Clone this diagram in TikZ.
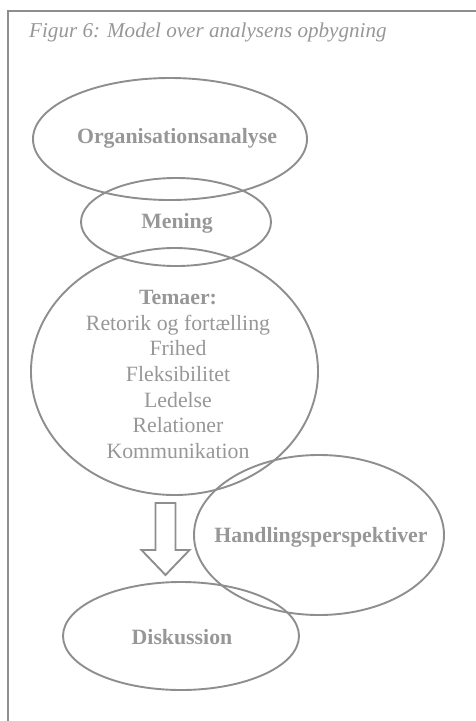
\documentclass[tikz,border=0pt]{standalone}
\usepackage{fontspec}
\setmainfont{Liberation Serif}
\usetikzlibrary{shapes.geometric}
\definecolor{linegray}{HTML}{8E8E8E}
\definecolor{textgray}{HTML}{979797}
\begin{document}
\begin{tikzpicture}[x=1pt,y=-1pt,
  oval/.style={draw=linegray, line width=1.9pt, ellipse, inner sep=0pt},
  lbl/.style={text=textgray, font=\fontsize{21.8}{25.6}\selectfont\bfseries, inner sep=0pt},
  body/.style={text=textgray, font=\fontsize{21.8}{25.6}\selectfont, align=center, inner sep=0pt}]
\useasboundingbox (0,0) rectangle (475,721);
% frame (top and left edges only)
\draw[linegray, line width=2pt] (8,722) -- (8,11) -- (476,11);
\node[text=textgray, font=\fontsize{21.1}{24}\selectfont\itshape, anchor=west, inner sep=0pt] (title) at (29,32) {Figur 6: Model over analysens opbygning};
% ovals
\node[oval, minimum width=274pt, minimum height=122pt] (org) at (170,139) {};
\node[oval, minimum width=190pt, minimum height=88pt] (men) at (176,222) {};
\node[oval, minimum width=287pt, minimum height=247pt] (tem) at (174.5,371.5) {};
\node[oval, minimum width=250pt, minimum height=160pt] (hand) at (319,535) {};
\node[oval, minimum width=236pt, minimum height=108pt] (disk) at (181,636) {};
% labels
\node[lbl] (orgt) at (177,138) {Organisationsanalyse};
\node[lbl] (ment) at (177,223) {Mening};
\node[body] (temt) at (178,374.5) {\textbf{Temaer:}\\Retorik og fortælling\\Frihed\\Fleksibilitet\\Ledelse\\Relationer\\Kommunikation};
\node[lbl] (handt) at (321,537) {Handlingsperspektiver};
\node[lbl] (diskt) at (182,637) {Diskussion};
% hollow block arrow
\coordinate (arr) at (165.5,503);
\draw[linegray, line width=1.9pt, line join=miter, fill=white]
  ([xshift=-10pt]arr) -- ([xshift=10pt]arr) -- ([xshift=10pt,yshift=-47pt]arr)
  -- ([xshift=24pt,yshift=-47pt]arr) -- ([yshift=-72pt]arr)
  -- ([xshift=-24pt,yshift=-47pt]arr) -- ([xshift=-10pt,yshift=-47pt]arr) -- cycle;
\end{tikzpicture}
\end{document}
